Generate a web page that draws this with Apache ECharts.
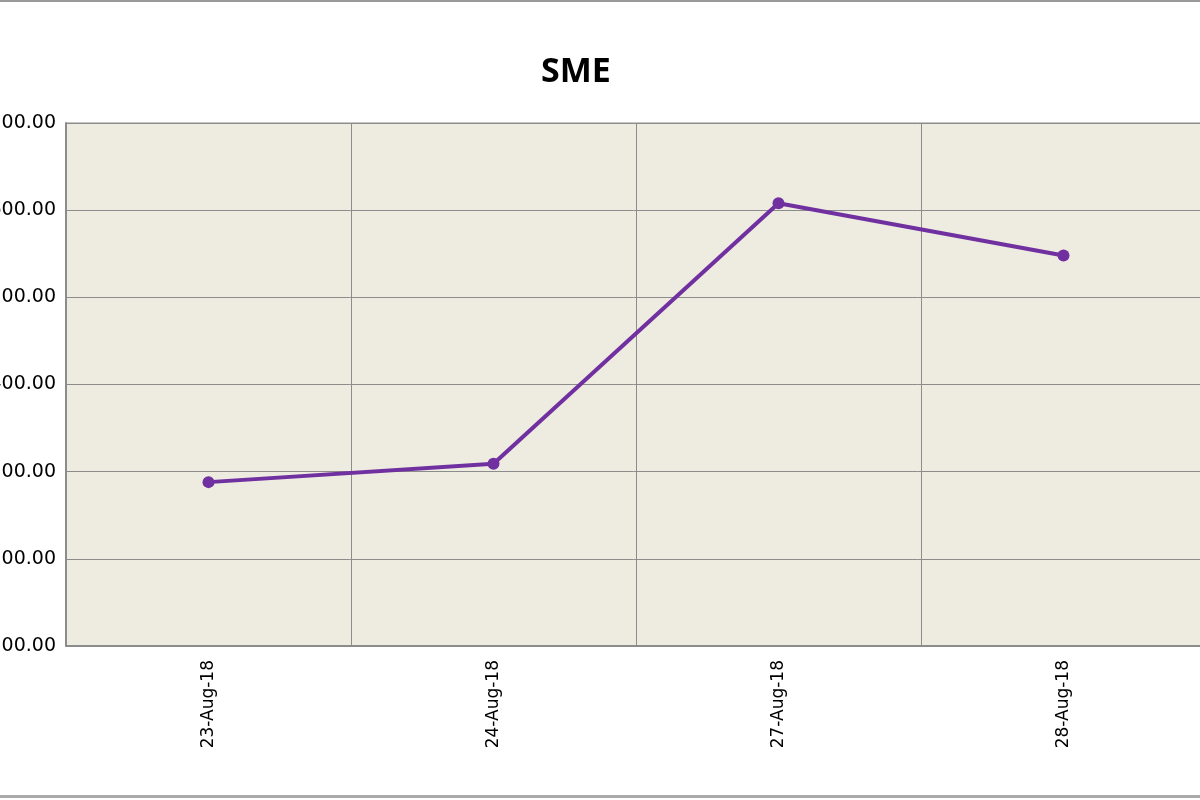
<!DOCTYPE html>
<html><head><meta charset="utf-8">
<script src="https://cdn.jsdelivr.net/npm/echarts@6/dist/echarts.min.js"></script>
<style>html,body{margin:0;padding:0;background:#fff}#c{width:1200px;height:800px}</style>
</head><body><div id="c"></div>
<script>
const categories = ['23-Aug-18','24-Aug-18','27-Aug-18','28-Aug-18'];
const values = [288, 309, 608, 548];
const yMin = 100, yMax = 700, yStep = 100;

const chart = echarts.init(document.getElementById('c'));
chart.setOption({
  animation:false,
  backgroundColor:'#fff',
  title:{text:'SME',left:571,top:50,textAlign:'center',textStyle:{fontFamily:'Open Sans',fontWeight:'bold',fontSize:34,color:'#000'}},
  graphic:[
    {type:'rect',shape:{x:0,y:0,width:1200,height:2},style:{fill:'#999'}},
    {type:'rect',shape:{x:0,y:795,width:1200,height:3},style:{fill:'#aaa'}}
  ],
  grid:{left:66,right:-6,top:123,bottom:154,containLabel:false,outerBoundsMode:'none',show:true,backgroundColor:'#EEEBE1',borderColor:'#8c8c8c',borderWidth:1},
  xAxis:{type:'category',data:categories,boundaryGap:true,
    axisLine:{lineStyle:{color:'#8c8c8c',width:2}},axisTick:{show:false},
    splitLine:{show:true,lineStyle:{color:'#8c8c8c',width:1}},
    axisLabel:{rotate:90,fontFamily:'DejaVu Sans',fontSize:17,color:'#000',margin:14}},
  yAxis:{type:'value',min:yMin,max:yMax,interval:yStep,
    axisLine:{show:true,lineStyle:{color:'#8c8c8c',width:2}},axisTick:{show:false},
    splitLine:{lineStyle:{color:'#8c8c8c',width:1}},
    axisLabel:{formatter:v=>v.toFixed(2),fontFamily:'DejaVu Sans',fontSize:19,color:'#000',margin:10}},
  series:[{type:'line',data:values,symbol:'circle',symbolSize:12,
    lineStyle:{color:'#7030A0',width:4},itemStyle:{color:'#7030A0'}}]
});
</script></body></html>
